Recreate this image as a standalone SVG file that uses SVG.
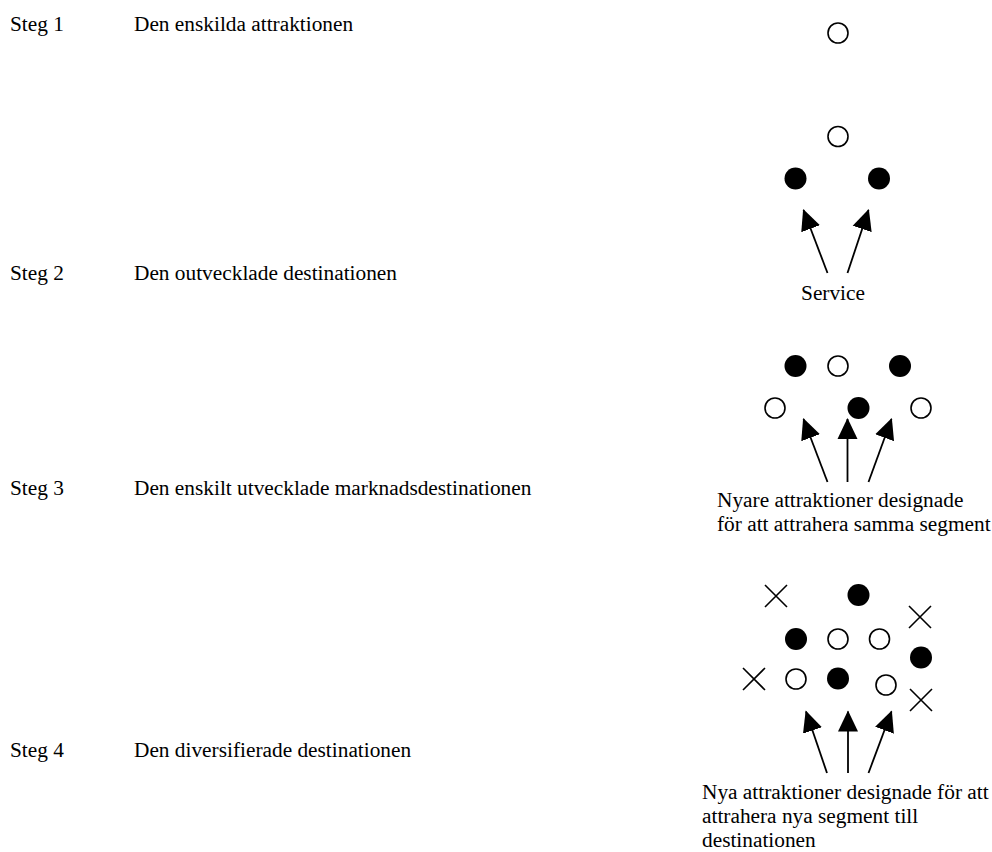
<svg xmlns="http://www.w3.org/2000/svg" width="992" height="852" viewBox="0 0 992 852">
<style>
text{font-family:"Liberation Serif","Times New Roman",serif;font-size:21.33px;fill:#000}
.o{fill:#fff;stroke:#000;stroke-width:1.6}
.f{fill:#000}
.x{stroke:#000;stroke-width:1.6;fill:none}
.a{stroke:#000;stroke-width:1.8;fill:none;marker-end:url(#ah)}
</style>
<defs>
<marker id="ah" markerUnits="userSpaceOnUse" markerWidth="22" markerHeight="22" refX="20" refY="10" orient="auto" viewBox="0 0 22 20">
<path d="M0,0 L21,10 L0,20 Z" fill="#000"/>
</marker>
</defs>
<rect width="992" height="852" fill="#fff"/>
<g id="labels">
<text x="10" y="31">Steg 1</text>
<text x="134" y="31">Den enskilda attraktionen</text>
<text x="10" y="280">Steg 2</text>
<text x="134" y="280">Den outvecklade destinationen</text>
<text x="10" y="495">Steg 3</text>
<text x="134" y="495">Den enskilt utvecklade marknadsdestinationen</text>
<text x="10" y="757">Steg 4</text>
<text x="134" y="757">Den diversifierade destinationen</text>
</g>
<g id="stage1">
<circle class="o" cx="838" cy="33" r="10"/>
</g>
<g id="stage2">
<circle class="o" cx="838" cy="136.5" r="10"/>
<circle class="f" cx="795.5" cy="178.5" r="11"/>
<circle class="f" cx="879" cy="178.5" r="11"/>
<text x="833" y="300" text-anchor="middle">Service</text>
</g>
<g id="stage3">
<circle class="f" cx="795.5" cy="366" r="11"/>
<circle class="o" cx="838" cy="366" r="10"/>
<circle class="f" cx="900" cy="366" r="11"/>
<circle class="o" cx="775" cy="408" r="10"/>
<circle class="f" cx="858.5" cy="408" r="11"/>
<circle class="o" cx="921" cy="408" r="10"/>
<text x="717" y="507">Nyare attraktioner designade</text>
<text x="717" y="531">för att attrahera samma segment</text>
</g>
<g id="stage4">
<path class="x" d="M765,585 L787,607 M787,585 L765,607"/>
<circle class="f" cx="858.5" cy="595" r="11"/>
<path class="x" d="M909,606 L931,628 M931,606 L909,628"/>
<circle class="f" cx="796" cy="639" r="11"/>
<circle class="o" cx="838" cy="639" r="10"/>
<circle class="o" cx="879.5" cy="639" r="10"/>
<circle class="f" cx="921" cy="657.5" r="11"/>
<path class="x" d="M743,668 L765,690 M765,668 L743,690"/>
<circle class="o" cx="796" cy="679" r="10"/>
<circle class="f" cx="838" cy="678.5" r="11"/>
<circle class="o" cx="886" cy="685" r="10"/>
<path class="x" d="M910,689 L932,711 M932,689 L910,711"/>
<text x="702" y="799">Nya attraktioner designade för att</text>
<text x="702" y="823">attrahera nya segment till</text>
<text x="702" y="847">destinationen</text>
</g>
<g id="connectors">
<line class="a" x1="827.5" y1="273" x2="803.5" y2="210"/>
<line class="a" x1="847.5" y1="273" x2="868.5" y2="210"/>
<line class="a" x1="827.5" y1="482" x2="803.5" y2="419"/>
<line class="a" x1="847.5" y1="482" x2="847.5" y2="419"/>
<line class="a" x1="868.5" y1="482" x2="891.5" y2="419"/>
<line class="a" x1="827" y1="773" x2="806" y2="711.5"/>
<line class="a" x1="848" y1="773" x2="848" y2="711.5"/>
<line class="a" x1="868.5" y1="773" x2="891.5" y2="711.5"/>
</g>
</svg>
